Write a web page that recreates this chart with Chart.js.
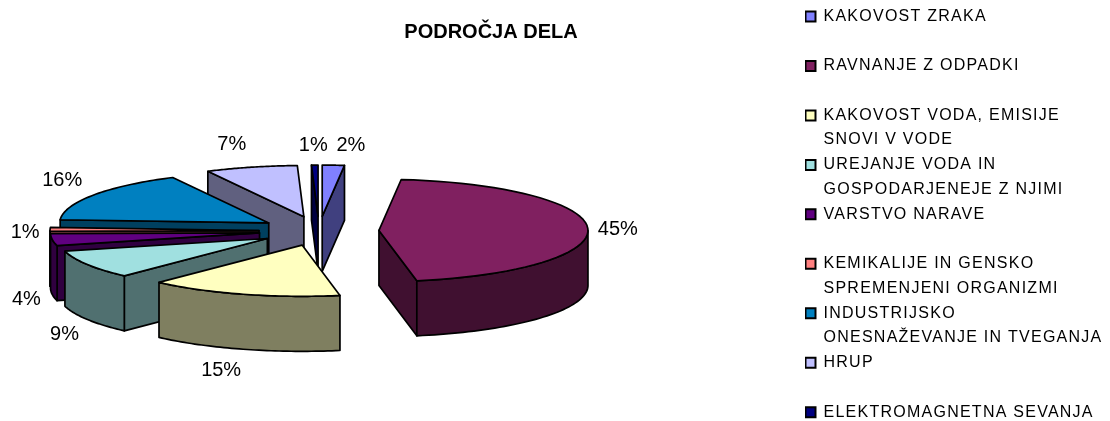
<!DOCTYPE html>
<html>
<head>
<meta charset="utf-8">
<style>html,body{margin:0;padding:0;background:#fff}canvas{display:block}</style>
<script src="https://cdn.jsdelivr.net/npm/chart.js@4"></script>
</head>
<body>
<canvas id="c" width="1110" height="421"></canvas>
<script>
const titleText = 'PODROČJA DELA';
const categories = [
  ['KAKOVOST ZRAKA', ''],
  ['RAVNANJE Z ODPADKI', ''],
  ['KAKOVOST VODA, EMISIJE', 'SNOVI V VODE'],
  ['UREJANJE VODA IN', 'GOSPODARJENEJE Z NJIMI'],
  ['VARSTVO NARAVE', ''],
  ['KEMIKALIJE IN GENSKO', 'SPREMENJENI ORGANIZMI'],
  ['INDUSTRIJSKO', 'ONESNAŽEVANJE IN TVEGANJA'],
  ['HRUP', ''],
  ['ELEKTROMAGNETNA SEVANJA', '']
];
const values = [1.7, 45.4, 14.9, 9, 3.8, 1.2, 16.4, 7.1, 0.5];
const colors = ['#8080FF', '#802060', '#FFFFC0', '#A0E0E0', '#600080', '#FF8080', '#0080C0', '#C0C0FF', '#000080'];
const labelNudge = [[17.5,-19.5],[30,0.5],[-22,21.5],[-23,15],[-26,4.5],[-25,3.5],[-31.5,-14.5],[-19.5,-22.5],[-1.5,-19.5]];
const pie3d = { cx: 319, cy: 231, radius: 209, squash: 0.245, depth: 55, explode: 60 };
const legendSpacing = '1.25px';

function halfColor(hex) {
  const n = parseInt(hex.slice(1), 16);
  const h = v => (v >> 1).toString(16).padStart(2, '0');
  return '#' + h((n >> 16) & 255) + h((n >> 8) & 255) + h(n & 255);
}

const pie3dPlugin = {
  id: 'pie3d',
  afterLayout(chart) {
    const t = chart.titleBlock, l = chart.legend;
    t.left = 0; t.right = 982;
    const w = l.right - l.left;
    l.left = 805; l.right = l.left + w;
    l.top = 8; l.bottom = 1000;
    if (!l._spaced) {
      l._spaced = true;
      const base = l.draw;
      l.draw = function (area) {
        const ctx = chart.ctx;
        ctx.save();
        ctx.letterSpacing = legendSpacing;
        base.call(this, area);
        ctx.restore();
      };
    }
  },
  beforeDatasetsDraw(chart) {
    const ctx = chart.ctx;
    const { cx, cy, radius: R, squash: k, depth, explode } = pie3d;
    const arcs = chart.getDatasetMeta(0).data;
    const items = arcs.map((el, i) => {
      const a0 = el.startAngle + Math.PI / 2, a1 = el.endAngle + Math.PI / 2;
      return { el, i, a0, a1, mid: (a0 + a1) / 2 };
    }).sort((p, q) => Math.cos(q.mid) - Math.cos(p.mid));

    const stroke = () => {
      ctx.strokeStyle = '#000';
      ctx.lineWidth = 1.7;
      ctx.lineJoin = 'round';
      ctx.stroke();
    };
    items.forEach(it => {
      const { el, i, a0, a1, mid } = it;
      const ox = cx + explode * Math.sin(mid), oy = cy - explode * k * Math.cos(mid);
      const pt = (a, r, d) => [ox + r * Math.sin(a), oy - r * k * Math.cos(a) + (d || 0)];
      const side = halfColor(colors[i]);
      const quad = a => {
        const p = pt(a, R), o = pt(a, 0);
        ctx.beginPath();
        ctx.moveTo(o[0], o[1]); ctx.lineTo(p[0], p[1]);
        ctx.lineTo(p[0], p[1] + depth); ctx.lineTo(o[0], o[1] + depth);
        ctx.closePath();
        ctx.fillStyle = side; ctx.fill(); stroke();
      };
      if (Math.sin(a0) < 0) quad(a0);
      if (Math.sin(a1) > 0) quad(a1);
      const b0 = Math.max(a0, Math.PI / 2), b1 = Math.min(a1, 3 * Math.PI / 2);
      if (b1 > b0) {
        ctx.beginPath();
        const n = 48;
        for (let s = 0; s <= n; s++) {
          const p = pt(b0 + (b1 - b0) * s / n, R);
          s ? ctx.lineTo(p[0], p[1]) : ctx.moveTo(p[0], p[1]);
        }
        for (let s = n; s >= 0; s--) {
          const p = pt(b0 + (b1 - b0) * s / n, R, depth);
          ctx.lineTo(p[0], p[1]);
        }
        ctx.closePath();
        ctx.fillStyle = side; ctx.fill(); stroke();
      }
      // top face: the library's own arc element, flattened
      ctx.save();
      const S = R / el.outerRadius;
      ctx.translate(ox, oy);
      ctx.scale(S, S * k);
      ctx.translate(-el.x, -el.y);
      el.draw(ctx);
      ctx.restore();
      ctx.beginPath();
      const o = pt(0, 0);
      ctx.moveTo(o[0], o[1]);
      const n = 48;
      for (let s = 0; s <= n; s++) {
        const p = pt(a0 + (a1 - a0) * s / n, R);
        ctx.lineTo(p[0], p[1]);
      }
      ctx.closePath();
      stroke();
    });
    ctx.save();
    ctx.font = '20px "Liberation Sans", Arial, sans-serif';
    ctx.fillStyle = '#000';
    ctx.textAlign = 'center';
    ctx.textBaseline = 'middle';
    items.forEach(({ i, mid }) => {
      const r = R + explode;
      const x = cx + r * Math.sin(mid);
      const y = cy - r * k * Math.cos(mid) + (Math.cos(mid) < -0.1 ? depth : 0);
      ctx.fillText(Math.max(1, Math.round(values[i])) + '%', x + labelNudge[i][0], y + labelNudge[i][1]);
    });
    ctx.restore();
    return false;
  }
};

new Chart(document.getElementById('c'), {
  type: 'pie',
  data: {
    labels: categories,
    datasets: [{ data: values, backgroundColor: colors, borderWidth: 0, hoverOffset: 0 }]
  },
  plugins: [pie3dPlugin],
  options: {
    responsive: false,
    animation: false,
    plugins: {
      tooltip: { enabled: false },
      title: {
        display: true,
        text: titleText,
        color: '#000',
        font: { family: '"Liberation Sans", Arial, sans-serif', size: 20, weight: 'bold' },
        padding: { top: 20, bottom: 10 }
      },
      legend: {
        display: true,
        position: 'right',
        align: 'start',
        labels: {
          color: '#000',
          boxWidth: 10,
          boxHeight: 10,
          padding: 0.5,
          font: { family: '"Liberation Sans", Arial, sans-serif', size: 16, lineHeight: 1.53 },
          generateLabels: chart => categories.map((text, i) => ({
            text,
            fillStyle: colors[i],
            strokeStyle: '#000',
            lineWidth: 2,
            hidden: false,
            index: i
          }))
        }
      }
    }
  }
});
</script>
</body>
</html>
